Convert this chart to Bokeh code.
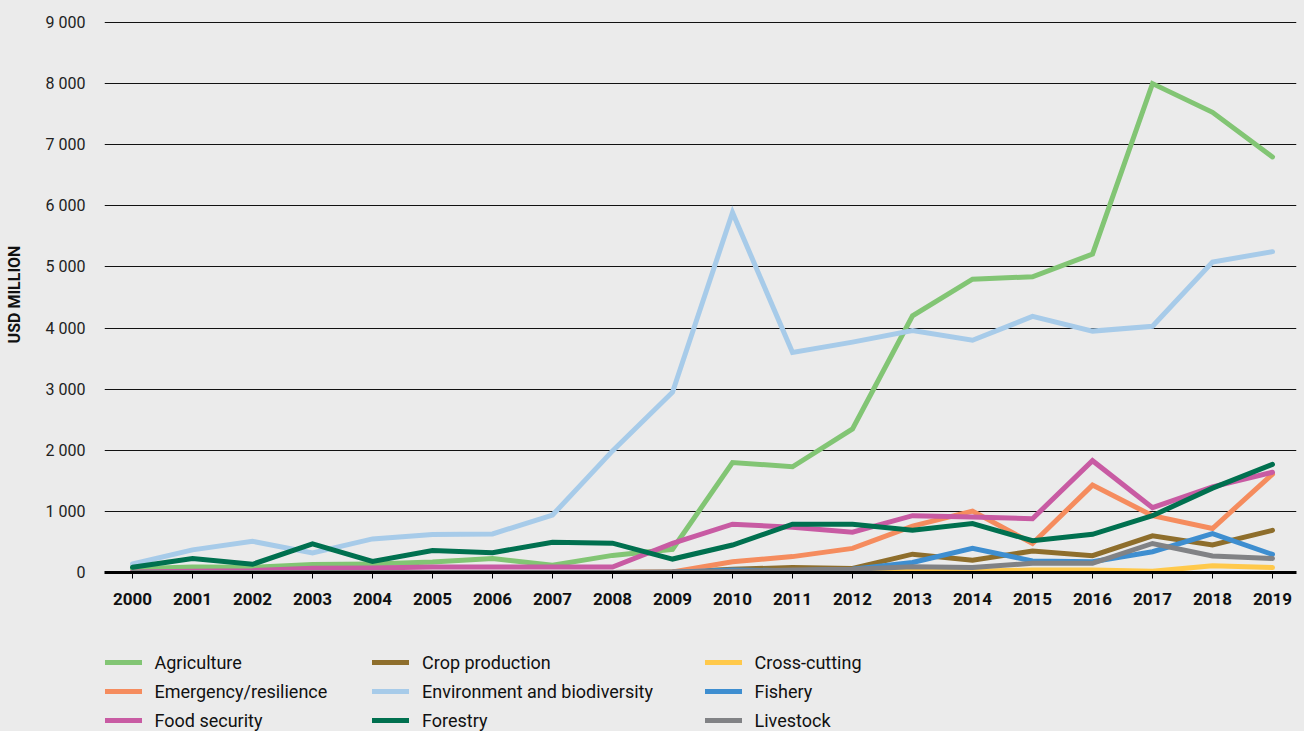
from bokeh.plotting import figure
from bokeh.models import Legend, LegendItem, FixedTicker, Range1d
from bokeh.layouts import column
from bokeh.embed import file_html
from bokeh.resources import INLINE

years = list(range(2000, 2020))
year_labels = [str(y) for y in years]
y_ticks = [0, 1000, 2000, 3000, 4000, 5000, 6000, 7000, 8000, 9000]
y_tick_labels = ["0", "1 000", "2 000", "3 000", "4 000", "5 000", "6 000", "7 000", "8 000", "9 000"]

agriculture = [60, 90, 85, 130, 140, 170, 230, 120, 280, 380, 1800, 1730, 2350, 4200, 4800, 4840, 5210, 8000, 7530, 6800]
crop_production = [0, 0, 0, 0, 0, 0, 0, 0, 0, 10, 55, 80, 65, 300, 200, 350, 275, 600, 450, 690]
cross_cutting = [0, 0, 0, 0, 0, 0, 0, 0, 0, 0, 10, 10, 20, 40, 20, 40, 40, 20, 110, 80]
emergency = [0, 0, 0, 0, 0, 0, 0, 0, 0, 10, 175, 260, 395, 760, 1005, 475, 1430, 930, 720, 1610]
environment = [140, 370, 510, 320, 550, 620, 630, 940, 1990, 2950, 5890, 3600, 3770, 3960, 3800, 4190, 3950, 4030, 5080, 5250]
fishery = [0, 0, 0, 0, 0, 0, 0, 0, 0, 5, 40, 30, 55, 165, 395, 190, 175, 340, 635, 295]
food_security = [10, 20, 30, 70, 75, 90, 90, 90, 90, 475, 790, 740, 660, 930, 910, 880, 1830, 1060, 1400, 1640]
forestry = [85, 230, 135, 470, 180, 360, 325, 495, 480, 220, 450, 790, 790, 690, 800, 520, 625, 930, 1380, 1770]
livestock = [0, 0, 0, 0, 0, 0, 0, 0, 0, 10, 20, 40, 55, 95, 80, 150, 150, 475, 270, 230]

series_names = ["Agriculture", "Crop production", "Cross-cutting",
                "Emergency/resilience", "Environment and biodiversity", "Fishery",
                "Food security", "Forestry", "Livestock"]
series_values = [agriculture, crop_production, cross_cutting,
                 emergency, environment, fishery,
                 food_security, forestry, livestock]
series_colors = ["#82C574", "#8E6E2C", "#FFC94B",
                 "#F58C5E", "#A7CBE9", "#3E8ED0",
                 "#C85BA3", "#00704F", "#818285"]

FONT = "Roboto"
BG = "#EBEBEB"
TXT = "#111111"

# ---------------- main chart ----------------
p = figure(width=1304, height=640,
           x_range=Range1d(1999.533, 2019.4), y_range=Range1d(0, 9098),
           output_backend="svg", toolbar_location=None,
           min_border_left=104, min_border_right=8, min_border_top=16, min_border_bottom=68,
           background_fill_color=BG, border_fill_color=BG, outline_line_color=None)

for name, vals, col in zip(series_names, series_values, series_colors):
    p.line(years, vals, line_color=col, line_width=5, line_cap="round", line_join="miter")

xa = p.xaxis[0]
xa.ticker = FixedTicker(ticks=years)
xa.major_label_overrides = {y: l for y, l in zip(years, year_labels)}
xa.axis_line_color = "black"
xa.axis_line_width = 3
xa.major_tick_line_color = "black"
xa.major_tick_line_width = 1
xa.major_tick_out = 6
xa.major_tick_in = 0
xa.minor_tick_line_color = None
xa.major_label_standoff = 14
xa.major_label_text_font = FONT
xa.major_label_text_font_style = "bold"
xa.major_label_text_font_size = "17px"
xa.major_label_text_color = TXT

ya = p.yaxis[0]
ya.ticker = FixedTicker(ticks=y_ticks)
ya.major_label_overrides = {t: l for t, l in zip(y_ticks, y_tick_labels)}
ya.axis_line_color = None
ya.major_tick_line_color = None
ya.minor_tick_line_color = None
ya.major_label_standoff = 13
ya.major_label_text_font = FONT
ya.major_label_text_font_size = "16px"
ya.major_label_text_color = "#222222"
ya.axis_label = "USD MILLION"
ya.axis_label_text_font = FONT
ya.axis_label_text_font_style = "bold"
ya.axis_label_text_font_size = "16px"
ya.axis_label_text_color = TXT
ya.axis_label_standoff = 19

p.xgrid.grid_line_color = None
p.ygrid.grid_line_color = "#111111"
p.ygrid.grid_line_width = 1

# ---------------- legend strip ----------------
leg_fig = figure(width=1304, height=91,
                 x_range=Range1d(0, 1), y_range=Range1d(0, 1),
                 x_axis_type=None, y_axis_type=None,
                 output_backend="svg", toolbar_location=None,
                 min_border=0, background_fill_color=BG, border_fill_color=BG,
                 outline_line_color=None)
leg_fig.grid.visible = False

key_renderers = []
for name, vals, col in zip(series_names, series_values, series_colors):
    r = leg_fig.line(years, vals, line_color=col, line_width=5, line_cap="round", visible=False)
    key_renderers.append(r)

# legend columns, in pixels from the (aligned) plot frame's left edge
col_x = [0.5, 268, 600.5]
for c in range(3):
    items = [LegendItem(label=series_names[rr * 3 + c], renderers=[key_renderers[rr * 3 + c]])
             for rr in range(3)]
    leg = Legend(items=items, location=(col_x[c], -1), orientation="vertical",
                 padding=0, margin=0, spacing=5,
                 glyph_width=37, glyph_height=24, label_height=24, label_standoff=13,
                 label_text_font=FONT, label_text_font_size="18px",
                 label_text_color=TXT,
                 border_line_alpha=0, background_fill_alpha=0,
                 inactive_fill_alpha=0)
    leg_fig.add_layout(leg)

layout = column(p, leg_fig, spacing=0, styles={"background-color": BG})
open("out.html", "w").write(file_html(layout, INLINE))
